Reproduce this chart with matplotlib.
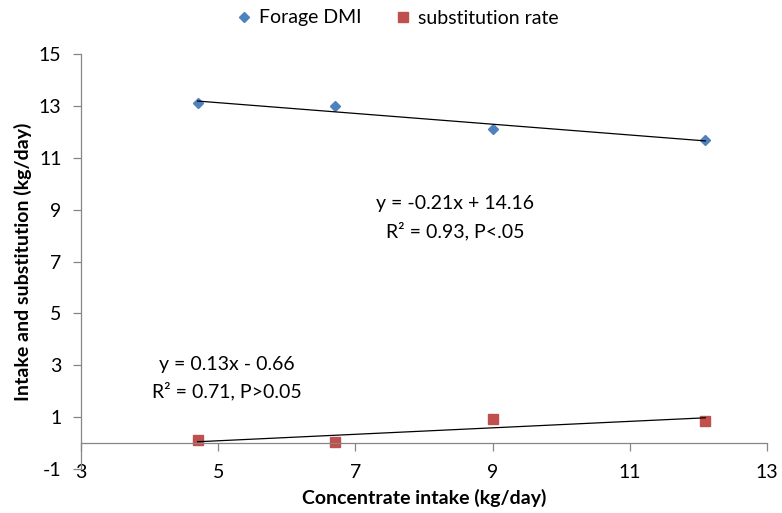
import numpy as np
import matplotlib as mpl
import matplotlib.pyplot as plt

mpl.use('Agg')

# data
conc = [4.7, 6.7, 9.0, 12.1]
forage_dmi = [13.1, 13.0, 12.1, 11.7]
subst_rate = [0.10, 0.04, 0.92, 0.85]

x_ticks = [3, 5, 7, 9, 11, 13]
y_ticks = [-1, 1, 3, 5, 7, 9, 11, 13, 15]

plt.rcParams['font.family'] = ['Lato', 'DejaVu Sans']
plt.rcParams['axes.unicode_minus'] = False
axis_grey = '#868686'

fig = plt.figure(figsize=(7.82, 5.13), dpi=100)
ax = fig.add_axes([0.1036, 0.0858, 0.8773, 0.8089])

ax.plot(conc, forage_dmi, 'D', color='#4F81BD', markersize=5.5, label='Forage DMI')
ax.plot(conc, subst_rate, 's', color='#C0504D', markersize=7.5, label='substitution rate')

# linear trend lines
xs = np.array([min(conc), max(conc)])
for ys in (forage_dmi, subst_rate):
    k, b = np.polyfit(conc, ys, 1)
    ax.plot(xs, k * xs + b, color='black', linewidth=0.9)

ax.text(8.45, 9.23, 'y = -0.21x + 14.16', ha='center', va='center', fontsize=14)
ax.text(8.45, 8.19, 'R² = 0.93, P<.05', ha='center', va='center', fontsize=14)
ax.text(5.13, 3.04, 'y = 0.13x - 0.66', ha='center', va='center', fontsize=14)
ax.text(5.13, 2.0, 'R² = 0.71, P>0.05', ha='center', va='center', fontsize=14)

ax.set_xlim(3, 13)
ax.set_ylim(-1, 15)
ax.set_xticks(x_ticks)
ax.set_yticks(y_ticks)

ax.spines['top'].set_visible(False)
ax.spines['right'].set_visible(False)
ax.spines['bottom'].set_position(('data', 0))
for s in ('left', 'bottom'):
    ax.spines[s].set_color(axis_grey)
    ax.spines[s].set_linewidth(0.9)

ax.tick_params(axis='both', colors=axis_grey, labelcolor='black', labelsize=14,
               direction='out', length=6, width=0.9)
ax.tick_params(axis='x', pad=9)
ax.tick_params(axis='y', pad=8)

ax.set_xlabel('Concentrate intake (kg/day)', fontsize=14, fontweight='bold', va='center')
ax.set_ylabel('Intake and substitution (kg/day)', fontsize=14, fontweight='bold', va='center')
ax.xaxis.set_label_coords(0.5, -0.07)
ax.yaxis.set_label_coords(-0.085, 0.5)

ax.legend(loc='center', bbox_to_anchor=(398 / 782, 1 - 18 / 513), bbox_transform=fig.transFigure,
          ncol=2, frameon=False, fontsize=14, handlelength=0.7, handletextpad=0.4,
          columnspacing=1.8, numpoints=1, borderpad=0.2)

fig.savefig('out.png', dpi=100)
